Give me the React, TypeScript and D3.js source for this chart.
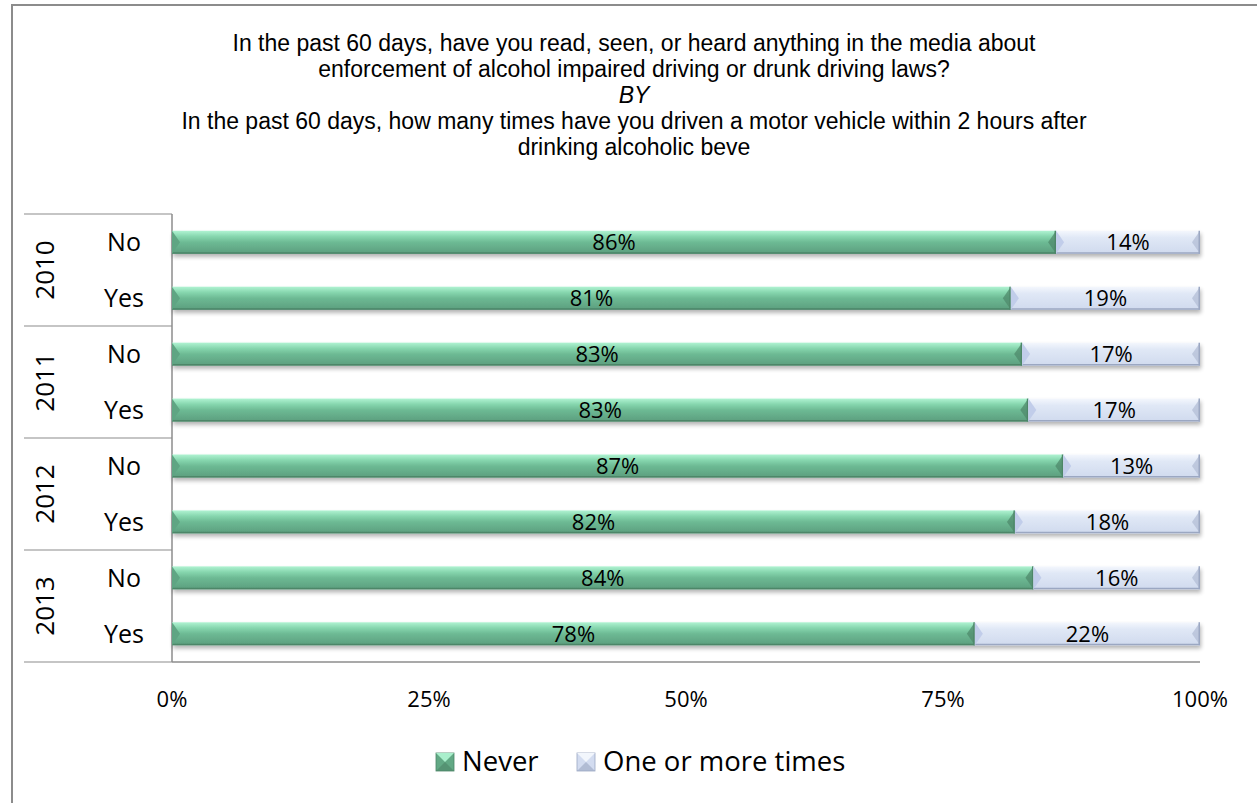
import React from 'react';
import * as d3 from 'd3';

// survey rows: year groups, media-awareness answer, share who never drove after drinking
const years = ['2010', '2011', '2012', '2013'];
const answers = ['No', 'Yes'];
const neverPct = [86.0, 81.6, 82.7, 83.3, 86.7, 82.0, 83.8, 78.1];
const neverLabels = ['86%', '81%', '83%', '83%', '87%', '82%', '84%', '78%'];
const moreLabels = ['14%', '19%', '17%', '17%', '13%', '18%', '16%', '22%'];
const tickValues = [0, 25, 50, 75, 100];
const seriesNames = ['Never', 'One or more times'];
const titleLines = [
  'In the past 60 days, have you read, seen, or heard anything in the media about',
  'enforcement of alcohol impaired driving or drunk driving laws?',
  'BY',
  'In the past 60 days, how many times have you driven a motor vehicle within 2 hours after',
  'drinking alcoholic beve',
];

const W = 1257;
const H = 803;
const FONT = "'Open Sans', 'Noto Sans', sans-serif";
const TITLE_FONT = "'Liberation Sans', Arial, sans-serif";

const palette = {
  Never: {grad: 'gNever', top: '#a9efcc', bottom: '#4d8668', side: '#5fa583', end: '#4f8a6b', legend: '#62a985'},
  'One or more times': {grad: 'gMore', top: '#f2f6fc', bottom: '#9ba7c2', side: '#c1cdea', end: '#b3bdd6', legend: '#d3dcf0'},
};

// bevelled bar segment like Excel's 3-D bar format
const Bevel = ({x0, x1, y0, h, c}) => {
  const y1 = y0 + h;
  const bx = Math.min(8, (x1 - x0) / 2);
  const ym = y0 + h / 2;
  return (
    <g>
      <rect x={x0} y={y0} width={x1 - x0} height={h} fill={`url(#${c.grad})`} />
      <line x1={x0} x2={x1} y1={y1 - 0.75} y2={y1 - 0.75} stroke={c.bottom} strokeWidth={1.5} />
      <polygon points={`${x0},${y0} ${x0 + bx},${ym} ${x0},${y1}`} fill={c.side} />
      <polygon points={`${x1},${y0} ${x1 - bx},${ym} ${x1},${y1}`} fill={c.end} opacity={0.75} />
      <line x1={x1 - 0.75} x2={x1 - 0.75} y1={y0} y2={y1} stroke={c.bottom} strokeWidth={1.5} />
    </g>
  );
};

export default function App() {
  const rows = years.flatMap(y => answers.map(a => `${y}|${a}`));

  const x = d3.scaleLinear().domain([0, 100]).range([172, 1200]);
  const y = d3.scaleBand().domain(rows).range([214, 662]).paddingInner(0.59).paddingOuter(0.3);
  const groupY = d3.scaleBand().domain(years).range([214, 662]);

  const barH = y.bandwidth();

  return (
    <svg width={W} height={H} style={{position: 'absolute', left: 0, top: 0}} fontFamily={FONT}>
      <defs>
        <filter id="shadow" x="-5%" y="-50%" width="110%" height="220%">
          <feGaussianBlur in="SourceAlpha" stdDeviation="2" />
          <feOffset dx="1" dy="3" result="b" />
          <feComponentTransfer><feFuncA type="linear" slope="0.3" /></feComponentTransfer>
          <feMerge><feMergeNode /><feMergeNode in="SourceGraphic" /></feMerge>
        </filter>
        <linearGradient id="gNever" x1="0" x2="0" y1="0" y2="1">
          <stop offset="0" stopColor="#b0f3d2" />
          <stop offset="0.25" stopColor="#86d6ae" />
          <stop offset="0.5" stopColor="#6dba94" />
          <stop offset="1" stopColor="#5c9e7e" />
        </linearGradient>
        <linearGradient id="gMore" x1="0" x2="0" y1="0" y2="1">
          <stop offset="0" stopColor="#f4f7fd" />
          <stop offset="0.3" stopColor="#e0e8f6" />
          <stop offset="1" stopColor="#d0daee" />
        </linearGradient>
      </defs>
      <rect x={0} y={0} width={W} height={H} fill="#fff" />
      {/* chart frame (cropped) */}
      <path d={`M12,${H} L12,5 L${W},5`} fill="none" stroke="#8c8c8c" strokeWidth={2} />

      {titleLines.map((t, i) => (
        <text key={i} x={634} y={51 + i * 25.9} textAnchor="middle" fontSize={23}
              fontFamily={TITLE_FONT}
              fontStyle={t === 'BY' ? 'italic' : 'normal'} fill="#000">{t}</text>
      ))}

      {/* category axis grid */}
      <line x1={172} x2={172} y1={214} y2={662} stroke="#8c8c8c" strokeWidth={1.5} />
      <line x1={172} x2={1200} y1={662} y2={662} stroke="#8c8c8c" strokeWidth={1.5} />
      {[...years.map(g => groupY(g)), 662].map((v, i) => (
        <line key={i} x1={24} x2={172} y1={v} y2={v} stroke="#8c8c8c" strokeWidth={1.2} />
      ))}
      {years.map(g => {
        const cy = groupY(g) + groupY.bandwidth() / 2;
        return (
          <text key={g} transform={`translate(54,${cy}) rotate(-90)`} textAnchor="middle"
                fontSize={26} fill="#000">{g}</text>
        );
      })}
      {rows.map(r => (
        <text key={r} x={124} y={y(r) + barH / 2 + 9} textAnchor="middle" fontSize={25} fill="#000">
          {r.split('|')[1]}
        </text>
      ))}

      {/* bars */}
      {rows.map((r, i) => {
        const v = neverPct[i];
        const y0 = y(r);
        return (
          <g key={r} filter="url(#shadow)">
            <Bevel x0={x(0)} x1={x(v)} y0={y0} h={barH} c={palette.Never} />
            <Bevel x0={x(v)} x1={x(100)} y0={y0} h={barH} c={palette['One or more times']} />
          </g>
        );
      })}
      {rows.map((r, i) => {
        const v = neverPct[i];
        const cy = y(r) + barH / 2 + 8;
        return (
          <g key={r + 'l'} fontSize={22} fill="#000" textAnchor="middle">
            <text x={(x(0) + x(v)) / 2} y={cy}>{neverLabels[i]}</text>
            <text x={(x(v) + x(100)) / 2} y={cy}>{moreLabels[i]}</text>
          </g>
        );
      })}

      {/* value axis labels */}
      {tickValues.map(t => (
        <text key={t} x={x(t)} y={707} textAnchor="middle" fontSize={22} fill="#000">{t}%</text>
      ))}

      {/* legend */}
      {seriesNames.map((s, i) => {
        const lx = i === 0 ? 436 : 577;
        const c = palette[s];
        return (
          <g key={s}>
            <rect x={lx} y={753} width={18} height={18} fill={c.legend} stroke={c.bottom} strokeWidth={0.8} />
            <polygon points={`${lx},753 ${lx + 18},753 ${lx + 9},762`} fill={c.top} />
            <polygon points={`${lx},771 ${lx + 18},771 ${lx + 9},762`} fill={c.bottom} opacity={0.6} />
            <text x={lx + 26} y={771} fontSize={27.5} fill="#000">{s}</text>
          </g>
        );
      })}
    </svg>
  );
}
